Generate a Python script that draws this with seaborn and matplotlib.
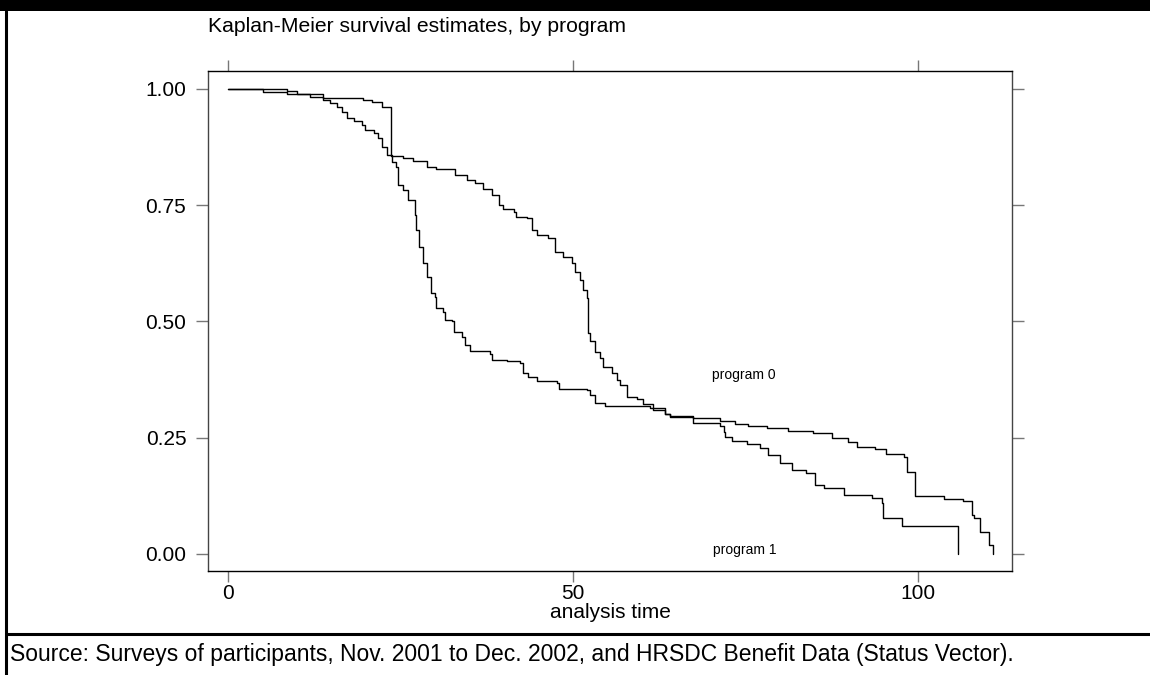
import numpy as np
import pandas as pd
import seaborn as sns
import matplotlib
matplotlib.use("Agg")
import matplotlib.pyplot as plt
from matplotlib.patches import Rectangle
from matplotlib.lines import Line2D

# ---- data ----
time_a = [0, 5.0, 8.5, 11.9, 13.8, 14.8, 15.8, 16.5, 17.2, 18.2, 19.4, 19.9, 21.1, 21.8,
          22.3, 23.0, 23.7, 24.4, 24.7, 25.4, 26.1, 27.1, 27.3, 27.7, 28.3, 28.8, 29.4,
          30.0, 30.2, 31.2, 31.4, 32.4, 32.8, 33.9, 34.3, 35.1, 38.0, 38.2, 40.4, 42.3,
          42.8, 43.5, 44.7, 47.6, 47.9, 52.0, 52.5, 53.2, 54.6, 61.2, 63.3, 64.1, 67.4,
          71.3, 73.5, 75.4, 78.1, 81.2, 84.8, 87.5, 89.9, 91.1, 93.8, 95.4, 97.9, 98.4,
          99.6, 103.7, 106.5, 107.8, 108.1, 109.0, 110.2, 110.8]
surv_a = [1.0, 0.993, 0.989, 0.983, 0.976, 0.969, 0.962, 0.951, 0.937, 0.932, 0.923, 0.912,
          0.905, 0.894, 0.876, 0.858, 0.844, 0.833, 0.794, 0.783, 0.761, 0.729, 0.697, 0.661,
          0.625, 0.596, 0.561, 0.553, 0.528, 0.521, 0.503, 0.500, 0.478, 0.467, 0.449, 0.437,
          0.430, 0.417, 0.414, 0.410, 0.389, 0.380, 0.371, 0.367, 0.355, 0.353, 0.342, 0.325,
          0.319, 0.313, 0.302, 0.297, 0.293, 0.285, 0.280, 0.276, 0.272, 0.265, 0.261, 0.250,
          0.240, 0.231, 0.226, 0.215, 0.208, 0.177, 0.125, 0.118, 0.115, 0.084, 0.077, 0.047,
          0.019, 0.0]

time_b = [0, 8.5, 10.0, 13.8, 19.6, 20.8, 22.3, 23.6, 25.4, 26.8, 28.8, 30.2, 32.9, 34.6,
          35.8, 37.0, 38.2, 39.2, 39.9, 41.4, 41.8, 43.3, 44.0, 44.7, 46.4, 47.4, 48.6, 49.8,
          50.3, 51.0, 51.5, 52.0, 52.2, 52.5, 53.2, 53.9, 54.4, 55.6, 56.3, 56.8, 57.8, 59.2,
          60.2, 61.6, 63.3, 64.1, 67.4, 71.3, 71.8, 72.0, 73.0, 75.2, 77.1, 78.3, 80.0, 81.7,
          83.8, 85.0, 86.3, 89.2, 93.3, 94.7, 94.9, 97.6, 105.8]
surv_b = [1.0, 0.995, 0.990, 0.981, 0.976, 0.973, 0.962, 0.856, 0.851, 0.845, 0.833, 0.828,
          0.815, 0.804, 0.797, 0.786, 0.771, 0.751, 0.741, 0.735, 0.725, 0.722, 0.697, 0.686,
          0.679, 0.650, 0.639, 0.625, 0.607, 0.589, 0.568, 0.550, 0.475, 0.457, 0.435, 0.421,
          0.402, 0.389, 0.374, 0.363, 0.338, 0.333, 0.323, 0.310, 0.300, 0.295, 0.281, 0.276,
          0.263, 0.252, 0.242, 0.237, 0.227, 0.213, 0.195, 0.181, 0.174, 0.148, 0.141, 0.127,
          0.120, 0.109, 0.077, 0.060, 0.0]

x_ticks = [0, 50, 100]
y_ticks = [0.0, 0.25, 0.50, 0.75, 1.00]
y_tick_labels = ["0.00", "0.25", "0.50", "0.75", "1.00"]
curve_labels = ["program 0", "program 1"]
label_pos = [(74.8, 0.376), (74.9, 0.0)]

title_text = "Kaplan-Meier survival estimates, by program"
x_title = "analysis time"
source_text = ("Source: Surveys of participants, Nov. 2001 to Dec. 2002, and HRSDC Benefit "
               "Data (Status Vector).")

df = pd.concat([
    pd.DataFrame({"time": time_a, "surv": surv_a, "curve": "A"}),
    pd.DataFrame({"time": time_b, "surv": surv_b, "curve": "B"}),
], ignore_index=True)

# ---- style ----
sns.set_theme(style="white")
plt.rcParams["font.family"] = ["Liberation Sans", "DejaVu Sans"]

fig = plt.figure(figsize=(11.5, 6.75), dpi=100)
W, H = 1150, 675
ax = fig.add_axes([208 / W, 1 - 571 / H, (1012 - 208) / W, (571 - 71) / H])

sns.lineplot(data=df, x="time", y="surv", hue="curve", palette=["black", "black"],
             estimator=None, sort=False, legend=False, drawstyle="steps-post",
             linewidth=1.0, ax=ax)

ax.set_xlim(-2.9, 113.6)
ax.set_ylim(-0.0366, 1.0387)
ax.set_xticks(x_ticks)
ax.set_yticks(y_ticks)
ax.set_yticklabels(y_tick_labels)
ax.tick_params(axis="both", which="both", direction="out", color="#777777",
               width=1.0, labelsize=15, labelcolor="black")
ax.tick_params(axis="y", length=8.6, pad=7.0, left=True, right=True,
               labelleft=True, labelright=False)
ax.tick_params(axis="x", length=8.0, pad=1.2, bottom=True, top=True,
               labelbottom=True, labeltop=False)
ax.set_xlabel(x_title, fontsize=15, labelpad=0.5, color="black")
ax.set_ylabel("")
for side, sp in ax.spines.items():
    sp.set_visible(True)
    sp.set_linewidth(1.0)
    sp.set_color("black" if side in ("top", "bottom") else "#444444")

for txt, (tx, ty) in zip(curve_labels, label_pos):
    ax.text(tx, ty, txt, fontsize=10, ha="center", va="baseline", color="black")

# ---- frame decorations ----
fig.patches.append(Rectangle((0, 1 - 11 / H), 1, 11 / H, transform=fig.transFigure,
                             facecolor="black", edgecolor="none", zorder=0))
fig.add_artist(Line2D([5.5 / W, 5.5 / W], [0, 1 - 11 / H], transform=fig.transFigure,
                      color="black", linewidth=2.2))
fig.add_artist(Line2D([5.5 / W, 1], [1 - 634 / H, 1 - 634 / H], transform=fig.transFigure,
                      color="black", linewidth=2.2))

fig.text(208 / W, 1 - 32 / H, title_text, fontsize=15.2, ha="left", va="baseline",
         color="black")
fig.text(10 / W, 1 - 661.5 / H, source_text, fontsize=16.5, ha="left", va="baseline",
         color="black")

fig.savefig("out.png", dpi=100, facecolor="white")
